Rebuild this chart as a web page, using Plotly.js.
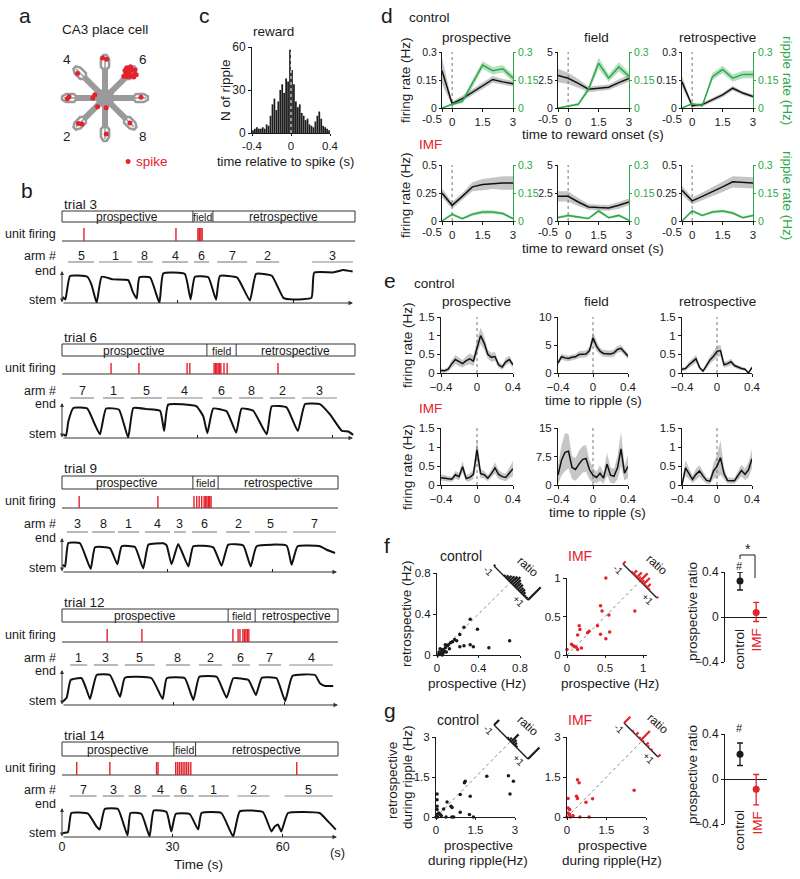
<!DOCTYPE html>
<html>
<head>
<meta charset="utf-8">
<script src="https://cdn.plot.ly/plotly-3.0.1.min.js"></script>
<style>html,body{margin:0;padding:0;background:#fff;}#chart{width:800px;height:879px;}</style>
</head>
<body>
<div id="chart"></div>
<script>
// ======================= DATA =======================
// ---- panel a: radial maze ----
const mazeArms = ['1','2','3','4','5','6','7','8'];
const mazeArmAngles = [-90, -135, 180, 135, 90, 45, 0, -45];
const spikeArm = [6,6,6,6,6,6,6,6,6,6,6,6,6,6,6,6, 5,5,4,3,3,2,2,1,8,7, 3,3,2,1];
const spikeR   = [0.74,0.8,0.84,0.88,0.92,0.96,1.0,0.82,0.86,0.9,0.94,0.98,0.78,0.86,0.92,0.7, 0.95,0.98,0.9,0.92,0.88,0.85,0.9,0.88,0.86,0.88, 0.3,0.25,0.28,0.24];
const spikeW   = [0,0.06,-0.07,0.1,-0.1,0.07,-0.03,0.13,-0.13,0.15,-0.14,0.1,-0.04,0.02,0.03,0.05, -0.04,0.06,0.05,0.02,-0.03,0.05,-0.02,0.03,0,0.02, 0,-0.08,0.02,0.03];

// ---- panel c: ripple histogram ----
const histCenters = [-0.39,-0.37,-0.35,-0.33,-0.31,-0.29,-0.27,-0.25,-0.23,-0.21,-0.19,-0.17,-0.15,-0.13,-0.11,-0.09,-0.07,-0.05,-0.03,-0.01,0.01,0.03,0.05,0.07,0.09,0.11,0.13,0.15,0.17,0.19,0.21,0.23,0.25,0.27,0.29,0.31,0.33,0.35,0.37,0.39];
const histCounts = [2,3,4,3,3,4,3,6,5,12,20,24,16,22,30,34,28,38,36,58,44,34,22,18,20,14,12,9,10,6,5,4,8,12,15,10,5,4,3,2];

// ---- panel b: trials ----
const trial3T = [0.17,0.87,2.08,6.58,7.7,9.0,10.3,13.3,17.2,18.4,19.4,20.1,22.9,25.3,26.3,31.9,33.4,34.5,38.0,40.0,41.0,45.5,48.8,50.4,54.5,57.5,60.1,64.8,65.5,70.5,73.1,75.5];
const trial3P = [0.19,0.10,1.0,0.97,0.65,-0.03,0.97,0.87,0.84,0.39,0.13,0.95,0.94,-0.03,1.1,1.08,0.10,0.97,0.95,0.09,1.0,0.94,0.06,1.08,1.01,0.16,0.10,0.16,1.13,1.14,1.23,1.17];
const trial3Spikes = [5.7,29.6,35.3,35.6,35.8,36.1,36.4];
const trial3Div = [34.0,39.2];
const trial3Arms = ['5','1','8','4','6','7','2','3'];
const trial3ArmStart = [1.6,9.6,19.5,26.0,34.3,40.3,50.4,64.9];
const trial3ArmEnd = [8.3,18.2,23.6,32.7,38.2,48.1,56.4,75.6];

const trial6T = [0.30,0.89,1.41,2.52,5.63,7.33,8.44,9.78,12.67,14.7,15.85,18.8,21.8,22.7,23.6,29.9,31.4,32.3,33.6,36.6,38.7,39.9,42.5,45.5,46.6,49.9,52.4,54.0,57.3,59.6,62.2,63.6,64.7];
const trial6P = [0.06,0.01,0.52,1.0,0.98,0.40,0.06,0.98,0.94,-0.06,1.0,0.96,0.90,0.18,1.12,1.06,0.70,0.10,0.98,0.88,0.12,0.98,0.90,0.06,1.06,1.02,0.18,1.14,1.14,0.76,0.18,0.16,0.04];
const trial6Spikes = [10.9,17.1,27.8,28.4,33.8,34.1,34.4,34.7,35.0,35.3,36.0,36.7,48.0];
const trial6Div = [32.2,38.7];
const trial6Arms = ['7','1','5','4','6','8','2','3'];
const trial6ArmStart = [1.8,9.1,15.3,23.3,33.3,39.3,46.2,53.3];
const trial6ArmEnd = [7.1,13.8,22.2,31.3,37.8,44.7,51.8,61.1];

const trial9T = [0.19,0.86,1.81,5.14,8.19,9.43,13.71,15.8,17.05,20.86,23.2,24.7,28.95,29.9,31.3,33.2,36.1,37.5,43.2,45.6,47.5,51.8,53.9,55.6,64.2,65.6,67.3,73.7,75.6,78.0];
const trial9P = [0.19,0.13,1.0,0.99,0.04,0.84,0.81,0.21,0.88,0.85,0.06,0.94,0.99,0.91,0.21,0.96,0.13,0.88,0.84,0.16,0.94,0.91,0.13,0.88,0.90,0.19,0.88,0.88,0.75,0.63];
const trial9Spikes = [4.9,27.4,37.7,38.5,39.2,39.9,40.6,41.0,41.4,41.8,42.2,42.6];
const trial9Div = [37.4,44.6];
const trial9Arms = ['3','8','1','4','3','6','2','5','7'];
const trial9ArmStart = [1.4,8.6,16.0,23.7,32.0,37.1,46.9,55.1,66.0];
const trial9ArmEnd = [7.4,15.1,22.0,30.9,35.4,44.3,53.7,64.3,78.3];

const trial12T = [0.18,1.26,2.34,5.3,6.5,7.57,9.37,12.97,15.68,17.0,24.2,27.2,28.3,33.2,35.5,37.1,41.8,44.5,46.3,50.4,52.4,54.0,58.0,60.3,62.3,68.4,69.7,71.1,73.3];
const trial12P = [-0.07,0.09,0.80,0.87,0.47,0.04,1.0,1.0,0.13,0.89,0.87,0.04,0.87,0.87,0.0,0.93,0.93,0.09,0.87,0.80,0.20,0.89,0.87,-0.04,0.97,1.0,0.67,0.56,0.56];
const trial12Spikes = [12.2,21.6,46.2,47.6,48.1,48.9,49.3,49.7,50.1,50.5];
const trial12Div = [44.9,52.2];
const trial12Arms = ['1','3','5','8','2','6','7','4'];
const trial12ArmStart = [2.2,8.6,17.0,28.1,37.0,45.9,53.2,61.4];
const trial12ArmEnd = [6.8,15.1,25.1,34.6,43.2,50.8,59.2,73.2];

const trial14T = [0.27,1.63,2.54,7.07,9.34,10.24,11.6,15.2,17.8,18.6,21.6,23.8,24.9,28.4,29.7,30.9,34.7,37.0,37.9,43.3,46.5,48.3,54.6,56.9,57.8,58.7,59.6,61.4,70.0,72.3,74.4];
const trial14P = [0,0.05,1.0,0.97,0.33,0.17,1.2,1.2,-0.12,1.0,0.95,-0.17,1.12,1.05,0.08,0.95,0.95,0.17,1.0,1.0,-0.17,1.08,1.05,0.08,0.33,0.42,0.08,1.0,1.0,0.58,0.17];
const trial14Spikes = [4.0,13.0,25.7,26.1,30.9,31.4,31.9,32.4,32.9,33.4,33.9,34.4,35.0,63.8];
const trial14Div = [30.4,36.3];
const trial14Arms = ['7','3','8','4','6','1','2','5'];
const trial14ArmStart = [2.1,11.1,18.1,24.4,30.4,37.1,47.7,60.5];
const trial14ArmEnd = [9.4,16.8,23.0,29.3,35.8,45.3,56.4,73.6];
const timeTicks = [0,30,60];

// ---- panel d: rates around reward onset ----
const dT = [-0.5,0,0.5,1,1.5,2,2.5,3];
const dCtrlProFR=[0.20,0.023,0.05,0.085,0.12,0.153,0.14,0.13];
const dCtrlProFRse=[0.07,0.012,0.015,0.015,0.018,0.018,0.016,0.015];
const dCtrlProRip=[0.0,0.02,0.035,0.13,0.23,0.20,0.21,0.16];
const dCtrlProRipSe=[0.004,0.006,0.01,0.02,0.02,0.02,0.02,0.02];
const dCtrlFieldFR=[2.9,2.65,2.2,1.68,1.76,1.85,2.26,2.65];
const dCtrlFieldFRse=[0.6,0.5,0.4,0.25,0.25,0.25,0.3,0.3];
const dCtrlFieldRip=[0.0,0.01,0.02,0.1,0.24,0.16,0.22,0.17];
const dCtrlFieldRipSe=[0.003,0.005,0.008,0.015,0.03,0.02,0.025,0.02];
const dCtrlRetroFR=[0.14,0.012,0.018,0.044,0.07,0.106,0.08,0.062];
const dCtrlRetroFRse=[0.03,0.008,0.01,0.01,0.012,0.012,0.01,0.01];
const dCtrlRetroRip=[0.0,0.023,0.012,0.168,0.206,0.16,0.18,0.18];
const dCtrlRetroRipSe=[0.003,0.006,0.006,0.02,0.02,0.02,0.02,0.02];
const dImfProFR=[0.25,0.14,0.22,0.305,0.325,0.335,0.34,0.34];
const dImfProFRse=[0.04,0.03,0.03,0.04,0.05,0.05,0.06,0.06];
const dImfProRip=[0.0,0.036,0.013,0.036,0.048,0.048,0.04,0.013];
const dImfProRipSe=[0.003,0.008,0.006,0.008,0.01,0.01,0.008,0.006];
const dImfFieldFR=[2.2,2.2,1.7,1.26,1.2,1.17,1.4,1.7];
const dImfFieldFRse=[0.45,0.45,0.35,0.25,0.25,0.25,0.3,0.3];
const dImfFieldRip=[0.018,0.03,0.022,0.013,0.054,0.018,0.03,0.004];
const dImfFieldRipSe=[0.006,0.008,0.006,0.005,0.01,0.006,0.008,0.004];
const dImfRetroFR=[0.275,0.18,0.22,0.26,0.305,0.35,0.345,0.34];
const dImfRetroFRse=[0.04,0.03,0.035,0.04,0.045,0.05,0.05,0.05];
const dImfRetroRip=[0.0,0.054,0.03,0.048,0.054,0.043,0.018,0.03];
const dImfRetroRipSe=[0.003,0.008,0.006,0.008,0.008,0.008,0.006,0.006];

// ---- panel e: rates around ripples ----
const eT = [-0.4,-0.36,-0.32,-0.28,-0.24,-0.2,-0.16,-0.12,-0.08,-0.04,0,0.04,0.08,0.12,0.16,0.2,0.24,0.28,0.32,0.36,0.4];
const eCtrlPro=[0.07,0.06,0.1,0.25,0.36,0.3,0.25,0.33,0.38,0.32,0.7,1.0,0.8,0.5,0.42,0.44,0.22,0.16,0.3,0.36,0.22];
const eCtrlProSe=[0.05,0.05,0.06,0.1,0.12,0.12,0.1,0.12,0.14,0.14,0.2,0.22,0.18,0.12,0.12,0.12,0.08,0.07,0.1,0.1,0.07];
const eCtrlField=[1.8,2.9,2.7,2.6,2.8,2.9,3.3,3.3,3.4,4.0,6.3,4.8,3.9,3.5,3.4,3.4,3.6,4.2,4.4,3.7,3.0];
const eCtrlFieldSe=[0.5,0.5,0.5,0.5,0.5,0.5,0.6,0.6,0.6,0.7,1.1,0.9,0.6,0.6,0.6,0.6,0.6,0.6,0.6,0.5,0.5];
const eCtrlRetro=[0.1,0.12,0.22,0.3,0.38,0.15,0.05,0.2,0.35,0.45,0.58,0.6,0.22,0.25,0.3,0.2,0.15,0.12,0.1,0.0,0.15];
const eCtrlRetroSe=[0.05,0.05,0.08,0.1,0.1,0.06,0.04,0.08,0.1,0.12,0.15,0.15,0.08,0.08,0.08,0.06,0.05,0.05,0.04,0.02,0.05];
const eImfPro=[0.19,0.18,0.16,0.15,0.27,0.22,0.48,0.17,0.2,0.28,0.93,0.3,0.27,0.18,0.3,0.45,0.28,0.22,0.2,0.33,0.43];
const eImfProSe=[0.08,0.08,0.07,0.07,0.1,0.1,0.15,0.08,0.1,0.12,0.3,0.12,0.1,0.08,0.1,0.15,0.12,0.1,0.1,0.15,0.2];
const eImfField=[2.6,6.5,8.6,8.9,4.6,4.1,5.5,6.7,7.0,4.0,2.6,2.0,3.1,1.8,5.5,2.6,2.3,4.5,9.5,3.1,4.9];
const eImfFieldSe=[2.5,4,5,4.5,3,3,3.5,3.5,3.5,2.5,2,1.5,2,1.5,3,2,2,3,4.5,2,3];
const eImfRetro=[0.0,0.45,0.3,0.15,0.28,0.37,0.24,0.12,0.1,0.37,0.49,0.72,0.3,0.12,0.11,0.11,0.25,0.38,0.28,0.4,0.69];
const eImfRetroSe=[0.05,0.2,0.15,0.1,0.15,0.15,0.12,0.08,0.08,0.2,0.3,0.45,0.15,0.08,0.08,0.08,0.12,0.15,0.15,0.2,0.25];

// ---- panel f / g: scatter, ratio histograms, prospective ratio ----
const fCtrlPro=[0.70,0.50,0.39,0.32,0.32,0.26,0.22,0.19,0.17,0.13,0.10,0.08,0.22,0.26,0.35,0.05,0.04,0.06,0.03,0.02,0.07,0.05,0.09,0.04,0.03,0.01,0.06,0.02,0.11,0.15,0.08,0.12];
const fCtrlRetro=[0.14,0.07,0.25,0.35,0.10,0.27,0.20,0.14,0.15,0.12,0.09,0.07,0.08,0.09,0.08,0.05,0.03,0.02,0.06,0.01,0.04,0.0,0.03,0.01,0.02,0.0,0.05,0.03,0.10,0.13,0.1,0.06];
const fImfPro=[0.51,0.44,0.46,0.89,0.55,0.40,0.16,0.17,0.14,0.44,0.56,0.51,0.27,0.29,0.06,0.10,0.12,0.14,0.19,0.0,0.08];
const fImfRetro=[1.0,0.64,0.57,0.57,0.52,0.38,0.38,0.33,0.26,0.27,0.30,0.21,0.29,0.31,0.14,0.11,0.10,0.07,0.09,0.07,0.12];
const gCtrlPro=[1.11,1.08,1.93,2.75,2.94,2.81,0.92,1.30,0.42,0.57,0.61,0.29,0.04,0.04,0.92,1.27,0.04,0.10,0.20,0.38,0.60,0.67,1.42,0.06,0.16,0.04,0.0,0.04];
const gCtrlRetro=[1.34,1.28,1.53,1.55,1.34,0.86,0.84,0.78,0.56,0.40,0.36,0.30,0.86,0.65,0.18,0.09,0.28,0.15,0.05,0.0,0.0,0.0,0.0,0.0,0.09,0.09,0.0,0.40];
const gImfPro=[0.40,0.46,0.36,0.40,0.72,0.97,2.55,0.04,0.04,0.10,0.04,0.23,0.49,0.84,0.13,0.0,0.10];
const gImfRetro=[1.40,1.28,0.78,0.69,0.55,0.68,1.0,0.69,0.34,0.28,0.15,0.05,0.0,0.0,0.0,0.0,0.09];
const ratioBins=[-1,-0.9,-0.8,-0.7,-0.6,-0.5,-0.4,-0.3,-0.2,-0.1,0,0.1,0.2,0.3,0.4,0.5,0.6,0.7,0.8,0.9,1];
const fRatioCtrlHist=[1,0,0,0,0,0,1,2,3,4,5,6,5,4,4,3,3,2,1,1,10];
const fRatioImfHist=[2,0,0,0,0,1,3,1,4,2,6,2,5,1,3,1,0,0,0,0,1];
const gRatioCtrlHist=[4,0,0,0,0,0,0,0,1,2,6,3,2,1,0,0,0,0,0,0,9];
const gRatioImfHist=[5,0,0,0,0,1,0,2,0,1,7,1,0,2,1,0,1,0,0,0,2];
const ratioGroups=['control','IMF'];
const fRatioMean=[0.32,0.04], fRatioErrUp=[0.08,0.09], fRatioErrDown=[0.08,0.08];
const gRatioMean=[0.22,-0.09], gRatioErrUp=[0.10,0.13], gRatioErrDown=[0.10,0.14];

// ======================= BUILD =======================
const W=800,H=879;
const FONT='Arial, "Liberation Sans", Helvetica, sans-serif';
const INK='#1a1a1a', RED='#e3222b', GREEN='#2da84a', GRAY='#9a9a9a';
const traces=[], ann=[], shapes=[];
const layout={width:W,height:H,margin:{l:0,r:0,t:0,b:0,pad:0},showlegend:false,
  paper_bgcolor:'#ffffff',plot_bgcolor:'rgba(0,0,0,0)',font:{family:FONT,size:12,color:INK},
  annotations:ann,shapes:shapes};
let nx=0,ny=0;
const AX={showgrid:false,zeroline:false,showline:true,linecolor:INK,linewidth:1,ticks:'outside',ticklen:3,tickangle:0,
  tickwidth:1,tickcolor:INK,tickfont:{family:FONT,size:12,color:INK},fixedrange:true};
const xk=i=>i===1?'xaxis':'xaxis'+i, yk=i=>i===1?'yaxis':'yaxis'+i;
const xr=i=>i===1?'x':'x'+i, yr=i=>i===1?'y':'y'+i;
function X(p0,p1,o){nx++;layout[xk(nx)]=Object.assign({},AX,{domain:[p0/W,p1/W]},o||{});return nx;}
function Y(top,bot,o){ny++;layout[yk(ny)]=Object.assign({},AX,{domain:[1-bot/H,1-top/H]},o||{});return ny;}
function link(x,y){layout[xk(x)].anchor=yr(y); if(!layout[yk(y)].anchor) layout[yk(y)].anchor=xr(x);}
function T(x,y,text,size,color,extra){ann.push(Object.assign({x:x/W,y:1-y/H,xref:'paper',yref:'paper',text:String(text),
  showarrow:false,font:{family:FONT,size:size||12,color:color||INK},xanchor:'center',yanchor:'middle'},extra||{}));}
function line(x,y,xa,ya,color,width,dash,extra){traces.push(Object.assign({type:'scatter',mode:'lines',x:x,y:y,xaxis:xr(xa),yaxis:yr(ya),
  line:{color:color,width:width,dash:dash||'solid'},hoverinfo:'skip'},extra||{}));}
function band(x,m,s,xa,ya,color){
  const up=m.map((v,i)=>v+s[i]), lo=m.map((v,i)=>Math.max(0,v-s[i]));
  traces.push({type:'scatter',mode:'lines',x:x.concat(x.slice().reverse()),y:up.concat(lo.slice().reverse()),
    fill:'toself',fillcolor:color,line:{color:'rgba(0,0,0,0)',width:0},xaxis:xr(xa),yaxis:yr(ya),hoverinfo:'skip'});
}
function dots(x,y,xa,ya,color,size){traces.push({type:'scatter',mode:'markers',x:x,y:y,xaxis:xr(xa),yaxis:yr(ya),
  marker:{color:color,size:size||3.5},cliponaxis:false,hoverinfo:'skip'});}

// ---------- panel a ----------
(function(){
  const xa=X(60,150,{visible:false,range:[-1.1,1.1]}), ya=Y(53,143,{visible:false,range:[-1.1,1.1]}); link(xa,ya);
  const rad=mazeArmAngles.map(a=>a*Math.PI/180);
  const hx=[],hy=[];
  for(let k=0;k<=16;k++){const a=k*Math.PI/8, r=(k%2===0)?0.42:0.2; hx.push(r*Math.cos(a)); hy.push(r*Math.sin(a));}
  traces.push({type:'scatter',mode:'lines',x:hx,y:hy,fill:'toself',fillcolor:GRAY,line:{color:GRAY,width:1},xaxis:xr(xa),yaxis:yr(ya)});
  const axx=[],axy=[];
  rad.forEach(a=>{axx.push(0,0.74*Math.cos(a),null); axy.push(0,0.74*Math.sin(a),null);});
  line(axx,axy,xa,ya,GRAY,6);
  const loopR=[0.66,0.76,0.95,1.05,1.05,0.95,0.76,0.66], loopW=[0,0.1,0.1,0.04,-0.04,-0.1,-0.1,0];
  const lx=[],ly=[],sx=[],sy=[];
  rad.forEach(a=>{
    loopR.forEach((r,i)=>{const w=loopW[i]; lx.push(r*Math.cos(a)-w*Math.sin(a)); ly.push(r*Math.sin(a)+w*Math.cos(a));});
    lx.push(null); ly.push(null);
    sx.push(0.7*Math.cos(a),1.0*Math.cos(a),null); sy.push(0.7*Math.sin(a),1.0*Math.sin(a),null);
  });
  line(lx,ly,xa,ya,GRAY,2.5);
  line(sx,sy,xa,ya,GRAY,1.5);
  const px=[],py=[];
  spikeArm.forEach((arm,i)=>{const a=mazeArmAngles[arm-1]*Math.PI/180, r=spikeR[i], w=spikeW[i];
    px.push(r*Math.cos(a)-w*Math.sin(a)); py.push(r*Math.sin(a)+w*Math.cos(a));});
  dots(px,py,xa,ya,RED,5);
  mazeArms.forEach((lab,i)=>{const a=rad[i];
    ann.push({x:1.33*Math.cos(a),y:1.33*Math.sin(a),xref:xr(xa),yref:yr(ya),text:lab,showarrow:false,xanchor:'center',yanchor:'middle',
      font:{family:FONT,size:13.5,color:INK}});});
  T(25,16,'a',21);
  T(105,30,'CA3 place cell',13.5);
  T(128,162,'•',18,RED);
  T(134,162,'spike',13.5,RED,{xanchor:'left'});
})();

// ---------- panel c ----------
(function(){
  const xa=X(252,330,{range:[-0.4,0.4],tickvals:[-0.4,0,0.4],ticktext:['-0.4','0','0.4'],ticklen:2,tickfont:{family:FONT,size:11.5,color:INK}});
  const ya=Y(47,133,{range:[0,60],tickvals:[0,30,60]}); link(xa,ya);
  traces.push({type:'bar',x:histCenters,y:histCounts,width:0.018,marker:{color:'#1e1e1e',line:{width:0}},xaxis:xr(xa),yaxis:yr(ya),hoverinfo:'skip'});
  line([0,0],[0,60],xa,ya,'#ffffff',1,'dot');
  T(205,16,'c',21);
  T(273,32,'reward',13.5);
  T(226,90,'N of ripple',13.5,INK,{textangle:-90});
  T(285,162,'time relative to spike (s)',13);
})();

// ---------- panel b ----------
const trials=[
 {name:'trial 3',t:trial3T,p:trial3P,sp:trial3Spikes,div:trial3Div,arms:trial3Arms,aS:trial3ArmStart,aE:trial3ArmEnd,
  scale:3.85,xEnd:355,arrowEnd:353,label:204,boxTop:211,boxBot:222,tickTop:228,unitLine:241,armLabel:256,armLine:262,endY:276,stemY:302,axisY:303,endTxt:271,stemTxt:300},
 {name:'trial 6',t:trial6T,p:trial6P,sp:trial6Spikes,div:trial6Div,arms:trial6Arms,aS:trial6ArmStart,aE:trial6ArmEnd,
  scale:4.5,xEnd:355,arrowEnd:353,label:337,boxTop:344,boxBot:356,tickTop:363,unitLine:374,armLabel:391,armLine:398,endY:408,stemY:436,axisY:438,endTxt:404,stemTxt:434},
 {name:'trial 9',t:trial9T,p:trial9P,sp:trial9Spikes,div:trial9Div,arms:trial9Arms,aS:trial9ArmStart,aE:trial9ArmEnd,
  scale:3.5,xEnd:338,arrowEnd:337,label:468,boxTop:476,boxBot:489,tickTop:496,unitLine:508,armLabel:524,armLine:532,endY:543,stemY:570,axisY:572,endTxt:538,stemTxt:568},
 {name:'trial 12',t:trial12T,p:trial12P,sp:trial12Spikes,div:trial12Div,arms:trial12Arms,aS:trial12ArmStart,aE:trial12ArmEnd,
  scale:3.7,xEnd:338,arrowEnd:338,label:602,boxTop:609,boxBot:622,tickTop:629,unitLine:642,armLabel:658,armLine:665,endY:675,stemY:700,axisY:705,endTxt:671,stemTxt:701},
 {name:'trial 14',t:trial14T,p:trial14P,sp:trial14Spikes,div:trial14Div,arms:trial14Arms,aS:trial14ArmStart,aE:trial14ArmEnd,
  scale:3.68,xEnd:338,arrowEnd:337,label:735,boxTop:742,boxBot:756,tickTop:762,unitLine:775,armLabel:790,armLine:796,endY:813,stemY:833,axisY:837,endTxt:804,stemTxt:833,labels:true}
];
trials.forEach(tr=>{
  const Tmax=(tr.xEnd-62)/tr.scale;
  const xa=X(61,tr.xEnd+1,{range:[-1/tr.scale,Tmax+1/tr.scale],showline:false,ticks:'inside',ticklen:3,
    tickvals:tr.labels?timeTicks:timeTicks.slice(1),showticklabels:!!tr.labels,tickfont:{family:FONT,size:12.5,color:INK}});
  const pxu=tr.stemY-tr.endY;
  const yp=Y(tr.endY-10,tr.axisY,{visible:false,range:[-(tr.axisY-tr.stemY)/pxu,1+10/pxu]}); link(xa,yp);
  const h0=tr.unitLine-tr.tickTop;
  const yu=Y(tr.tickTop,tr.unitLine+1,{visible:false,range:[-1/h0,1],anchor:xr(xa)});
  line(tr.t,tr.p,xa,yp,'#111111',2,'solid',{line:{color:'#111111',width:2,shape:'spline',smoothing:0.4}});
  line([0,Tmax],[0,0],xa,yu,'#333333',1);
  const sx=[],sy=[]; tr.sp.forEach(s=>{sx.push(s,s,null); sy.push(0,1,null);});
  line(sx,sy,xa,yu,RED,1.4);
  const bt=1-tr.boxTop/H, bb=1-tr.boxBot/H;
  shapes.push({type:'rect',xref:xr(xa),yref:'paper',x0:0,x1:Tmax,y0:bb,y1:bt,line:{color:'#333',width:1}});
  tr.div.forEach(d=>shapes.push({type:'line',xref:xr(xa),yref:'paper',x0:d,x1:d,y0:bb,y1:bt,line:{color:'#333',width:1}}));
  const ym=1-((tr.boxTop+tr.boxBot)/2+0.5)/H;
  [['prospective',(0+tr.div[0])/2,12],['field',(tr.div[0]+tr.div[1])/2,10.5],['retrospective',(tr.div[1]+Tmax)/2,12]].forEach(s=>{
    ann.push({x:s[1],y:ym,xref:xr(xa),yref:'paper',text:s[0],showarrow:false,font:{family:FONT,size:s[2],color:INK},xanchor:'center',yanchor:'middle'});});
  tr.arms.forEach((a,i)=>{
    shapes.push({type:'line',xref:xr(xa),yref:'paper',x0:tr.aS[i],x1:tr.aE[i],y0:1-tr.armLine/H,y1:1-tr.armLine/H,line:{color:'#8a8a8a',width:1.2}});
    ann.push({x:(tr.aS[i]+tr.aE[i])/2,y:1-tr.armLabel/H,xref:xr(xa),yref:'paper',text:a,showarrow:false,xanchor:'center',yanchor:'middle',
      font:{family:FONT,size:12.5,color:INK}});
  });
  ann.push({x:tr.arrowEnd/W,y:1-tr.axisY/H,xref:'paper',yref:'paper',ax:-(tr.arrowEnd-62),ay:0,axref:'pixel',ayref:'pixel',
    text:'',showarrow:true,arrowhead:2,arrowsize:0.9,arrowwidth:1,arrowcolor:'#333'});
  ann.push({x:62/W,y:1-(tr.endY-5)/H,xref:'paper',yref:'paper',ax:0,ay:(tr.axisY+1)-(tr.endY-5),axref:'pixel',ayref:'pixel',
    text:'',showarrow:true,arrowhead:2,arrowside:'end+start',startarrowhead:2,arrowsize:0.8,startarrowsize:0.8,arrowwidth:1,arrowcolor:'#333'});
  T(62,tr.label,tr.name,13.5,INK,{xanchor:'left'});
  T(58,(tr.tickTop+tr.unitLine)/2-1,'unit firing',12.5,INK,{xanchor:'right'});
  T(58,tr.armLabel,'arm #',12.5,INK,{xanchor:'right'});
  T(58,tr.endTxt,'end',12.5,INK,{xanchor:'right'});
  T(58,tr.stemTxt,'stem',12.5,INK,{xanchor:'right'});
  if(tr.labels){T(198,864,'Time (s)',13.5); T(337,852,'(s)',13);}
});
T(27,190,'b',21);

// ---------- panel d ----------
const colX=[[442,513],[558,629],[682,753]];
function dPanel(ci,top,bot,range,tv,fr,frSe,rip,ripSe){
  const xa=X(colX[ci][0],colX[ci][1],{range:[-0.5,3],tickvals:[-0.5,0,1.5,3],ticktext:['','0','1.5','3'],tickfont:{family:FONT,size:11.5,color:INK}});
  const ya=Y(top,bot,{range:range,tickvals:tv,ticklen:2,tickfont:{family:FONT,size:10.5,color:INK}}); link(xa,ya);
  const yb=Y(top,bot,{overlaying:yr(ya),side:'right',anchor:xr(xa),range:[0,0.3],tickvals:[0,0.15,0.3],ticklen:2,
    linecolor:GREEN,tickcolor:GREEN,tickfont:{family:FONT,size:10.5,color:GREEN}});
  band(dT,fr,frSe,xa,ya,'rgba(150,150,150,0.55)');
  line([0,0],[0,range[1]],xa,ya,'#777',1,'dot');
  line(dT,fr,xa,ya,'#111',1.5);
  band(dT,rip,ripSe,xa,yb,'rgba(45,168,74,0.35)');
  line(dT,rip,xa,yb,GREEN,1.5);
  T(colX[ci][0]+2,bot+11,'-0.5',11.5,INK,{xanchor:'right'});
}
dPanel(0,52,108,[0,0.3],[0,0.15,0.3],dCtrlProFR,dCtrlProFRse,dCtrlProRip,dCtrlProRipSe);
dPanel(1,52,108,[0,5],[0,2.5,5],dCtrlFieldFR,dCtrlFieldFRse,dCtrlFieldRip,dCtrlFieldRipSe);
dPanel(2,52,108,[0,0.3],[0,0.15,0.3],dCtrlRetroFR,dCtrlRetroFRse,dCtrlRetroRip,dCtrlRetroRipSe);
dPanel(0,165,221,[0,0.5],[0,0.25,0.5],dImfProFR,dImfProFRse,dImfProRip,dImfProRipSe);
dPanel(1,165,221,[0,5],[0,2.5,5],dImfFieldFR,dImfFieldFRse,dImfFieldRip,dImfFieldRipSe);
dPanel(2,165,221,[0,0.5],[0,0.25,0.5],dImfRetroFR,dImfRetroFRse,dImfRetroRip,dImfRetroRipSe);
T(387,16,'d',21);
T(407,18,'control',13.5,INK,{xanchor:'left'});
T(477,37,'prospective',13.5); T(596,37,'field',13.5); T(717,37,'retrospective',13.5);
T(406,80,'firing rate (Hz)',13.5,INK,{textangle:-90});
T(406,195,'firing rate (Hz)',13.5,INK,{textangle:-90});
T(787,80,'ripple rate (Hz)',13.5,GREEN,{textangle:90});
T(787,195,'ripple rate (Hz)',13.5,GREEN,{textangle:90});
T(593,134,'time to reward onset (s)',13.5);
T(593,248,'time to reward onset (s)',13.5);
T(417,144,'IMF',13.5,RED,{xanchor:'left'});

// ---------- panel e ----------
const eColX=[[441,513],[558,628],[682,752]];
function ePanel(ci,top,bot,range,tv,m,s){
  const xa=X(eColX[ci][0],eColX[ci][1],{range:[-0.4,0.4],tickvals:[-0.4,0,0.4],ticktext:['\u22120.4','0','0.4'],tickfont:{family:FONT,size:11.5,color:INK}});
  const ya=Y(top,bot,{range:range,tickvals:tv,tickfont:{family:FONT,size:11.5,color:INK}}); link(xa,ya);
  band(eT,m,s,xa,ya,'rgba(160,160,160,0.6)');
  line([0,0],[0,range[1]],xa,ya,'#777',1,'dot');
  line(eT,m,xa,ya,'#111',1.5);
}
ePanel(0,317,373,[0,1.5],[0,0.5,1,1.5],eCtrlPro,eCtrlProSe);
ePanel(1,317,373,[0,10],[0,5,10],eCtrlField,eCtrlFieldSe);
ePanel(2,317,373,[0,1.5],[0,0.5,1,1.5],eCtrlRetro,eCtrlRetroSe);
ePanel(0,428,485,[0,1.5],[0,0.5,1,1.5],eImfPro,eImfProSe);
ePanel(1,428,485,[0,15],[0,7.5,15],eImfField,eImfFieldSe);
ePanel(2,428,485,[0,1.5],[0,0.5,1,1.5],eImfRetro,eImfRetroSe);
T(390,281,'e',21);
T(412,283,'control',13.5,INK,{xanchor:'left'});
T(477,301,'prospective',13.5); T(596,301,'field',13.5); T(717,301,'retrospective',13.5);
T(407,345,'firing rate (Hz)',13.5,INK,{textangle:-90});
T(407,467,'firing rate (Hz)',13.5,INK,{textangle:-90});
T(593,400,'time to ripple (s)',13.5);
T(597,512,'time to ripple (s)',13.5);
T(417,408,'IMF',13.5,RED,{xanchor:'left'});

// ---------- panel f / g ----------
function inset(cx,cy,counts,color){
  const S=80;
  const xa=X(cx-S/2,cx+S/2,{visible:false,range:[-1,1]}), ya=Y(cy-S/2,cy+S/2,{visible:false,range:[-1,1]}); link(xa,ya);
  const L=0.6,k=0.045,s=Math.SQRT1_2;
  line([-L*s,L*s],[L*s,-L*s],xa,ya,INK,1.3);
  const bx=[],by=[];
  counts.forEach((c,i)=>{if(!c)return; const r=ratioBins[i], x0=r*L*s, y0=-r*L*s; bx.push(x0,x0+c*k*s,null); by.push(y0,y0+c*k*s,null);});
  line(bx,by,xa,ya,color,2.2);
  T(cx+17,cy-16,'ratio',12,INK,{textangle:42});
  T(cx-22,cy-12,'-1',10,INK,{textangle:45});
  T(cx+8,cy+18,'+1',10,INK,{textangle:45});
}
function scatterPanel(x0,x1,top,bot,xr_,yr_,tv,px,py,color,diagEnd){
  const xa=X(x0,x1,{range:xr_,tickvals:tv[0],ticklen:2,tickfont:{family:FONT,size:11.5,color:INK}});
  const ya=Y(top,bot,{range:yr_,tickvals:tv[1],tickfont:{family:FONT,size:11.5,color:INK}}); link(xa,ya);
  line([0,diagEnd],[0,diagEnd],xa,ya,'#888',1,'dot');
  dots(px,py,xa,ya,color,3.5);
}
function ratioPanel(top,bot,mean,up,dn){
  const xa=X(725,767,{visible:false,type:'category',range:[-0.93,1.67]});
  const ya=Y(top,bot,{range:[-0.4,0.4],tickvals:[-0.4,0,0.4],ticktext:['\u22120.4','0','0.4'],zeroline:true,zerolinecolor:INK,zerolinewidth:1}); link(xa,ya);
  [0,1].forEach(i=>{
    const c=i===0?INK:RED;
    traces.push({type:'scatter',mode:'markers',x:[ratioGroups[i]],y:[mean[i]],xaxis:xr(xa),yaxis:yr(ya),cliponaxis:false,
      marker:{color:c,size:7},error_y:{type:'data',symmetric:false,array:[up[i]],arrayminus:[dn[i]],color:c,thickness:1.3,width:3},hoverinfo:'skip'});
  });
}
scatterPanel(437,520,573,655,[0,0.8],[0,0.8],[[0,0.4,0.8],[0,0.4,0.8]],fCtrlPro,fCtrlRetro,INK,0.76);
scatterPanel(567,647,578,655,[0,1.05],[0,1.0],[[0,0.5,1],[0,0.5,1]],fImfPro,fImfRetro,RED,0.97);
inset(511,583,fRatioCtrlHist,INK);
inset(640,581,fRatioImfHist,RED);
ratioPanel(572,662,fRatioMean,fRatioErrUp,fRatioErrDown);
T(387,545,'f',21);
T(461,556,'control',14); T(580,556,'IMF',14,RED);
T(477,683,'prospective (Hz)',13.5); T(610,683,'prospective (Hz)',13.5);
T(406,613,'retrospective (Hz)',13.5,INK,{textangle:-90});
T(692,612,'prospective ratio',13.5,INK,{textangle:-90});
T(739,627,'control',13.5,INK,{textangle:-90,yanchor:'top'});
T(756,627,'IMF',13.5,RED,{textangle:-90,yanchor:'top'});
T(739,566,'#',11);
T(748,549,'*',14);
const pp=(x,y)=>(x/W)+' '+(1-y/H);
shapes.push({type:'path',xref:'paper',yref:'paper',path:'M '+pp(740,559)+' L '+pp(740,555)+' L '+pp(755,555)+' L '+pp(755,578),line:{color:INK,width:1}});
scatterPanel(436,515,737,817,[0,3],[0,3],[[0,1.5,3],[0,1.5,3]],gCtrlPro,gCtrlRetro,INK,2.85);
scatterPanel(567,646,737,817,[0,3],[0,3],[[0,1.5,3],[0,1.5,3]],gImfPro,gImfRetro,RED,2.85);
inset(511,742,gRatioCtrlHist,INK);
inset(641,740,gRatioImfHist,RED);
ratioPanel(734,824,gRatioMean,gRatioErrUp,gRatioErrDown);
T(390,710,'g',21);
T(458,720,'control',14); T(580,720,'IMF',14,RED);
T(478,845,'prospective',13.5); T(478,860,'during ripple(Hz)',13.5);
T(612,845,'prospective',13.5); T(612,860,'during ripple(Hz)',13.5);
T(392,781,'retrospective',13.5,INK,{textangle:-90});
T(407,777,'during ripple (Hz)',13.5,INK,{textangle:-90});
T(692,775,'prospective ratio',13.5,INK,{textangle:-90});
T(739,808,'control',13.5,INK,{textangle:-90,yanchor:'top'});
T(757,810,'IMF',13.5,RED,{textangle:-90,yanchor:'top'});
T(739,728,'#',11);

Plotly.newPlot('chart',traces,layout,{displayModeBar:false,staticPlot:true});
</script>
</body>
</html>
